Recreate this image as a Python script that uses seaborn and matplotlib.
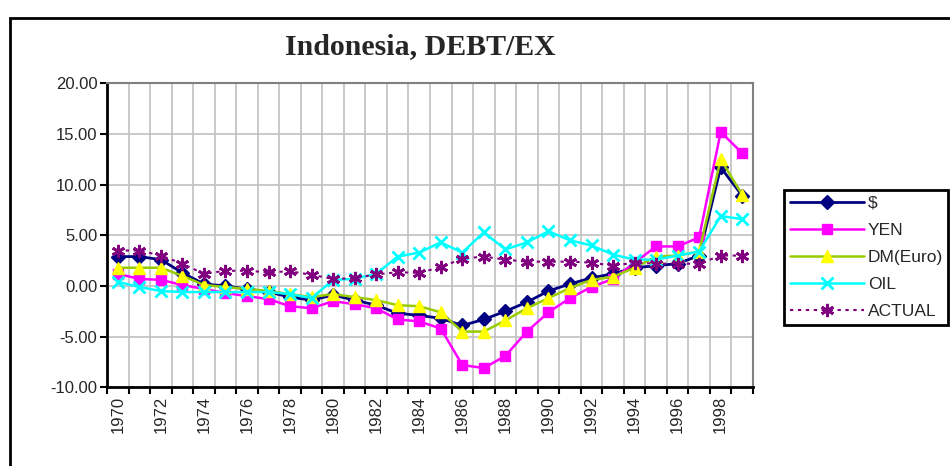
import numpy as np
import pandas as pd
import matplotlib
matplotlib.use("Agg")
import matplotlib.pyplot as plt
import matplotlib.patches as mpatches
from matplotlib.ticker import FixedLocator, FormatStrFormatter, MultipleLocator
import seaborn as sns

# Data
years = list(range(1970, 2000))
usd = [2.9, 2.9, 2.6, 1.3, 0.2, 0.0, -0.3, -0.6, -1.1, -1.4,
       -0.9, -1.4, -1.9, -2.7, -2.9, -3.2, -3.9, -3.3, -2.5, -1.6,
       -0.5, 0.2, 0.8, 1.2, 1.8, 2.0, 2.2, 3.0, 11.7, 8.9]
yen = [1.2, 0.7, 0.6, 0.1, -0.3, -0.7, -1.0, -1.3, -2.0, -2.2,
       -1.5, -1.8, -2.2, -3.3, -3.5, -4.2, -7.8, -8.1, -6.9, -4.5,
       -2.6, -1.2, -0.1, 0.7, 2.3, 3.9, 3.9, 4.8, 15.2, 13.1]
dm = [1.8, 1.8, 1.8, 1.0, 0.1, -0.1, -0.3, -0.5, -0.8, -1.1,
      -0.8, -1.1, -1.4, -1.9, -2.0, -2.6, -4.5, -4.5, -3.4, -2.2,
      -1.2, -0.2, 0.6, 0.9, 1.8, 2.9, 3.0, 3.4, 12.5, 9.0]
oil = [0.4, -0.1, -0.5, -0.6, -0.6, -0.6, -0.6, -0.6, -0.8, -1.2,
       0.6, 0.7, 1.2, 2.9, 3.3, 4.3, 3.3, 5.3, 3.6, 4.3,
       5.4, 4.5, 4.0, 3.1, 2.6, 2.6, 3.0, 3.4, 6.9, 6.6]
actual = [3.5, 3.5, 3.0, 2.2, 1.2, 1.5, 1.5, 1.35, 1.45, 1.1,
          0.7, 0.75, 1.15, 1.35, 1.3, 1.85, 2.7, 2.9, 2.6, 2.4,
          2.4, 2.4, 2.3, 2.0, 2.3, 2.2, 2.2, 2.2, 3.0, 3.0]
series_names = ["$", "YEN", "DM(Euro)", "OIL", "ACTUAL"]

df = pd.DataFrame({"year": years, "$": usd, "YEN": yen, "DM(Euro)": dm,
                   "OIL": oil, "ACTUAL": actual})
df["pos"] = np.arange(len(years))

sns.set_style("white")
plt.rcParams["font.family"] = ["Liberation Sans", "DejaVu Sans"]

fig = plt.figure(figsize=(9.5, 4.66), dpi=100)
ax = fig.add_axes([107/950, 1-387.3/466, (753-107)/950, (387.3-83.3)/466])

styles = {
    "$": dict(color="#000080", marker="D", ms=7, mfc="#000080", mec="#000080", mew=1, lw=2),
    "YEN": dict(color="#ff00ff", marker="s", ms=7.5, mfc="#ff00ff", mec="#ff00ff", mew=1, lw=1.8),
    "DM(Euro)": dict(color="#99cc00", marker="^", ms=9, mfc="#ffff00", mec="#ffff00", mew=1, lw=1.8),
    "OIL": dict(color="#00ffff", marker="x", ms=8, mfc="#00ffff", mec="#00ffff", mew=2, lw=1.8),
    "ACTUAL": dict(color="#800080", marker=(6, 2, 0), ms=9.5, mfc="#800080", mec="#800080",
                   mew=2, lw=1.5, linestyle=(0, (1.6, 2.2))),
}
for name in series_names:
    sns.lineplot(data=df, x="pos", y=name, ax=ax, label=name, **styles[name])

ax.set_xlim(-0.5, len(years) - 0.5)
ax.set_ylim(-10, 20)
ax.yaxis.set_major_locator(MultipleLocator(5))
ax.yaxis.set_major_formatter(FormatStrFormatter("%.2f"))

# category axis: ticks at boundaries, labels on even years
ax.xaxis.set_major_locator(FixedLocator(np.arange(-0.5, len(years), 1.0)))
ax.xaxis.set_minor_locator(FixedLocator(df["pos"][::2].values))
ax.set_xticklabels([], minor=False)
ax.set_xticklabels([str(y) for y in years[::2]], minor=True, rotation=90, fontsize=12)
ax.tick_params(axis="x", which="minor", length=0, pad=6)
ax.tick_params(axis="x", which="major", length=5, width=1.5, direction="out", color="black", bottom=True)
ax.tick_params(axis="y", length=5, width=1.5, direction="out", color="black", labelsize=12, left=True, pad=2)

ax.grid(True, which="major", color="#c0c0c0", lw=1.2)
ax.set_axisbelow(True)
for side in ["left", "bottom"]:
    ax.spines[side].set_color("black")
    ax.spines[side].set_linewidth(2)
for side in ["top", "right"]:
    ax.spines[side].set_color("#808080")
    ax.spines[side].set_linewidth(1.5)
ax.set_xlabel(None)
ax.set_ylabel(None)

fig.text(420/950, 1-47/466, "Indonesia, DEBT/EX", ha="center", va="center",
         fontsize=21.5, fontweight="bold", family="Liberation Serif")

leg = ax.legend(loc="upper left", bbox_to_anchor=(784/950, 1-190/466),
                bbox_transform=fig.transFigure, frameon=True, fancybox=False,
                framealpha=1, edgecolor="black", fontsize=12.5, handlelength=4.3,
                handletextpad=0.2, labelspacing=0.69, borderpad=0.32, borderaxespad=0)
leg.get_frame().set_linewidth(2)

fig.add_artist(mpatches.Rectangle((10/950, -0.1), 2, 1-18/466+0.1, transform=fig.transFigure,
                                  fill=False, lw=2, ec="black"))

fig.savefig("out.png", dpi=100)
